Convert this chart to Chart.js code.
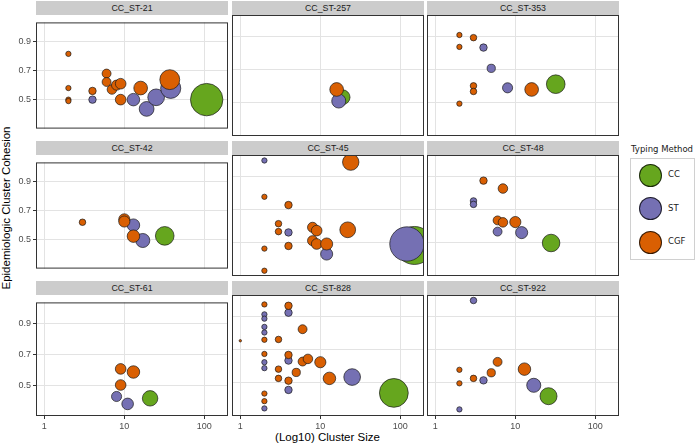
<!DOCTYPE html>
<html>
<head>
<meta charset="utf-8">
<script src="https://cdn.jsdelivr.net/npm/chart.js@4.4.1/dist/chart.umd.min.js"></script>
<style>
  body { margin: 0; background: #fff; font-family: "Liberation Sans", Arial, sans-serif; }
  #wrap { position: relative; width: 696px; height: 445px; overflow: hidden; }
  #wrap canvas { position: absolute; }
  .strip { position: absolute; height: 14px; line-height: 14px; background: #cccccc; color: #1a1a1a; font-size: 8.8px; text-align: center; }
  .axisTitle { position: absolute; width: 300px; height: 14px; line-height: 14px; text-align: center; font-size: 11.5px; color: #000; }
  #yTitle { transform: rotate(-90deg); }
  .leg { position: absolute; font-family: "DejaVu Sans", sans-serif; font-size: 8.5px; color: #1a1a1a; }
  .legDot { position: absolute; width: 23px; height: 23px; border-radius: 50%; box-sizing: border-box; border: 1px solid rgba(0,0,0,0.75); }
</style>
</head>
<body>
<div id="wrap">
  <div class="axisTitle" id="yTitle" style="left:-144.5px; top:201px;">Epidemiologic Cluster Cohesion</div>
  <div class="axisTitle" style="left:177.5px; top:430px;">(Log10) Cluster Size</div>

  <div class="leg" style="left:631px; top:144px;">Typing Method</div>
  <div style="position:absolute; left:630px; top:158px; width:63px; height:100px; border:1px solid #d0d0d0;"></div>
  <div id="legendItems"></div>
</div>

<script>
var panelNames = ['CC_ST-21', 'CC_ST-257', 'CC_ST-353', 'CC_ST-42', 'CC_ST-45', 'CC_ST-48', 'CC_ST-61', 'CC_ST-828', 'CC_ST-922'];
var methods = ['CC', 'ST', 'CGF'];
var methodColors = ['#66a61e', '#7570b3', '#d95f02'];
var xTicks = [1, 10, 100];
var yTicks = [0.5, 0.7, 0.9];

// [panel, cluster size, cohesion]
var ccPoints = [
  ['CC_ST-21', 107, 0.50],
  ['CC_ST-257', 19, 0.535],
  ['CC_ST-353', 32, 0.614],
  ['CC_ST-42', 32, 0.526],
  ['CC_ST-45', 150, 0.485],
  ['CC_ST-48', 28, 0.50],
  ['CC_ST-61', 21, 0.414],
  ['CC_ST-828', 83, 0.44],
  ['CC_ST-922', 26, 0.42]
];

var stPoints = [
  ['CC_ST-21', 4, 0.50], ['CC_ST-21', 13, 0.50], ['CC_ST-21', 19, 0.436], ['CC_ST-21', 25, 0.516], ['CC_ST-21', 38, 0.578],
  ['CC_ST-257', 17, 0.512],
  ['CC_ST-353', 4, 0.836], ['CC_ST-353', 5, 0.71], ['CC_ST-353', 8, 0.592],
  ['CC_ST-42', 13, 0.60], ['CC_ST-42', 17, 0.494],
  ['CC_ST-45', 2, 1.0], ['CC_ST-45', 4, 0.564], ['CC_ST-45', 12, 0.433], ['CC_ST-45', 121, 0.494],
  ['CC_ST-48', 3, 0.755], ['CC_ST-48', 3, 0.734], ['CC_ST-48', 6, 0.569], ['CC_ST-48', 12, 0.563],
  ['CC_ST-61', 8, 0.426], ['CC_ST-61', 11, 0.378],
  ['CC_ST-828', 2, 0.916], ['CC_ST-828', 2, 0.89], ['CC_ST-828', 2, 0.84], ['CC_ST-828', 2, 0.806],
  ['CC_ST-828', 2, 0.626], ['CC_ST-828', 2, 0.59], ['CC_ST-828', 2, 0.346],
  ['CC_ST-828', 4, 0.926], ['CC_ST-828', 4, 0.636], ['CC_ST-828', 4, 0.458], ['CC_ST-828', 25, 0.536],
  ['CC_ST-922', 3, 1.0], ['CC_ST-922', 2, 0.34], ['CC_ST-922', 4, 0.516], ['CC_ST-922', 17, 0.486]
];

var cgfPoints = [
  ['CC_ST-21', 2, 0.816], ['CC_ST-21', 2, 0.58], ['CC_ST-21', 2, 0.50], ['CC_ST-21', 2, 0.49],
  ['CC_ST-21', 4, 0.56], ['CC_ST-21', 6, 0.68], ['CC_ST-21', 6, 0.622], ['CC_ST-21', 7, 0.57],
  ['CC_ST-21', 8, 0.60], ['CC_ST-21', 9, 0.61], ['CC_ST-21', 9, 0.50], ['CC_ST-21', 16, 0.58], ['CC_ST-21', 37, 0.638],
  ['CC_ST-257', 16, 0.582],
  ['CC_ST-353', 2, 0.912], ['CC_ST-353', 3, 0.896], ['CC_ST-353', 2, 0.84], ['CC_ST-353', 3, 0.604],
  ['CC_ST-353', 3, 0.57], ['CC_ST-353', 2, 0.496], ['CC_ST-353', 16, 0.582],
  ['CC_ST-42', 3, 0.62], ['CC_ST-42', 10, 0.64], ['CC_ST-42', 10, 0.625], ['CC_ST-42', 13, 0.524],
  ['CC_ST-45', 24, 0.99], ['CC_ST-45', 2, 0.78], ['CC_ST-45', 4, 0.73], ['CC_ST-45', 3, 0.617],
  ['CC_ST-45', 3, 0.569], ['CC_ST-45', 8, 0.595], ['CC_ST-45', 9, 0.575], ['CC_ST-45', 22, 0.58],
  ['CC_ST-45', 2, 0.466], ['CC_ST-45', 4, 0.482], ['CC_ST-45', 8, 0.514], ['CC_ST-45', 9, 0.494],
  ['CC_ST-45', 12, 0.494], ['CC_ST-45', 2, 0.332],
  ['CC_ST-48', 4, 0.878], ['CC_ST-48', 7, 0.83], ['CC_ST-48', 6, 0.637], ['CC_ST-48', 7, 0.625], ['CC_ST-48', 10, 0.627],
  ['CC_ST-61', 9, 0.604], ['CC_ST-61', 13, 0.584], ['CC_ST-61', 9, 0.50],
  ['CC_ST-828', 1, 0.756], ['CC_ST-828', 2, 0.976], ['CC_ST-828', 2, 0.762], ['CC_ST-828', 2, 0.676],
  ['CC_ST-828', 2, 0.436], ['CC_ST-828', 2, 0.39], ['CC_ST-828', 4, 0.968], ['CC_ST-828', 4, 0.67],
  ['CC_ST-828', 4, 0.514], ['CC_ST-828', 3, 0.764], ['CC_ST-828', 3, 0.584], ['CC_ST-828', 3, 0.528],
  ['CC_ST-828', 6, 0.826], ['CC_ST-828', 6, 0.63], ['CC_ST-828', 7, 0.646], ['CC_ST-828', 5, 0.564],
  ['CC_ST-828', 10, 0.626], ['CC_ST-828', 13, 0.528],
  ['CC_ST-922', 2, 0.58], ['CC_ST-922', 2, 0.498], ['CC_ST-922', 3, 0.528], ['CC_ST-922', 5, 0.562],
  ['CC_ST-922', 6, 0.628], ['CC_ST-922', 13, 0.584]
];

var allPoints = [ccPoints, stPoints, cgfPoints];

// layout of the 3x3 grid
var colLeft = [36, 232, 427];
var rowTop = [15, 155, 295];
var plotW = 192;
var plotH = 121;
var tickFont = { family: 'Liberation Sans', size: 9 };

// bubble area grows with cluster size (1 .. 150)
function bubbleRadius(size) {
  return 1.2 + 17.8 * Math.sqrt(Math.max(0, size - 1) / 149);
}

var panelBorder = {
  id: 'panelBorder',
  afterDraw: function (chart) {
    var a = chart.chartArea;
    var ctx = chart.ctx;
    ctx.save();
    ctx.strokeStyle = '#333333';
    ctx.lineWidth = 1;
    ctx.strokeRect(a.left + 0.5, a.top + 0.5, a.right - a.left - 1, a.bottom - a.top - 1);
    ctx.restore();
  }
};

var wrap = document.getElementById('wrap');

panelNames.forEach(function (name, i) {
  var col = i % 3;
  var row = Math.floor(i / 3);
  var padL = col === 0 ? 36 : 0;
  var padB = row === 2 ? 24 : 0;

  var strip = document.createElement('div');
  strip.className = 'strip';
  strip.style.left = colLeft[col] + 'px';
  strip.style.top = (rowTop[row] - 14) + 'px';
  strip.style.width = plotW + 'px';
  strip.textContent = name;
  wrap.appendChild(strip);

  var canvas = document.createElement('canvas');
  canvas.width = plotW + padL;
  canvas.height = plotH + padB;
  canvas.style.left = (colLeft[col] - padL) + 'px';
  canvas.style.top = rowTop[row] + 'px';
  wrap.appendChild(canvas);

  var datasets = methods.map(function (m, k) {
    return {
      label: m,
      data: allPoints[k].filter(function (p) { return p[0] === name; }).map(function (p) {
        return { x: p[1], y: p[2], r: bubbleRadius(p[1]) };
      }),
      backgroundColor: methodColors[k],
      borderColor: '#1a1a1a',
      borderWidth: 0.7,
      order: 3 - k,
      clip: 0
    };
  });

  new Chart(canvas, {
    type: 'bubble',
    data: { datasets: datasets },
    options: {
      responsive: false,
      animation: false,
      events: [],
      layout: { padding: 0, autoPadding: false },
      plugins: { legend: { display: false }, tooltip: { enabled: false } },
      scales: {
        x: {
          type: 'logarithmic',
          min: 0.787,
          max: 197.7,
          afterBuildTicks: function (s) { s.ticks = xTicks.map(function (v) { return { value: v }; }); },
          afterFit: function (s) { s.height = padB; },
          ticks: {
            display: row === 2,
            autoSkip: false,
            maxRotation: 0,
            padding: 2,
            color: '#4d4d4d',
            font: tickFont,
            callback: function (v) { return String(v); }
          },
          grid: { color: '#e3e3e3', lineWidth: 1, drawTicks: row === 2, tickLength: 3, tickColor: '#333333' },
          border: { display: false }
        },
        y: {
          type: 'linear',
          min: 0.3,
          max: 1.0333,
          afterBuildTicks: function (s) { s.ticks = yTicks.map(function (v) { return { value: v }; }); },
          afterFit: function (s) { s.width = padL; },
          ticks: {
            display: col === 0,
            padding: 2,
            color: '#4d4d4d',
            font: tickFont,
            callback: function (v) { return v.toFixed(1); }
          },
          grid: { color: '#e3e3e3', lineWidth: 1, drawTicks: col === 0, tickLength: 3, tickColor: '#333333' },
          border: { display: false }
        }
      }
    },
    plugins: [panelBorder]
  });
});

// legend
var legendItems = document.getElementById('legendItems');
var legendY = [175, 208.5, 242];
methods.forEach(function (m, k) {
  var dot = document.createElement('div');
  dot.className = 'legDot';
  dot.style.left = '639px';
  dot.style.top = (legendY[k] - 11.5) + 'px';
  dot.style.background = methodColors[k];
  legendItems.appendChild(dot);
  var lab = document.createElement('div');
  lab.className = 'leg';
  lab.style.left = '668px';
  lab.style.top = (legendY[k] - 6) + 'px';
  lab.textContent = m;
  legendItems.appendChild(lab);
});
</script>
</body>
</html>
